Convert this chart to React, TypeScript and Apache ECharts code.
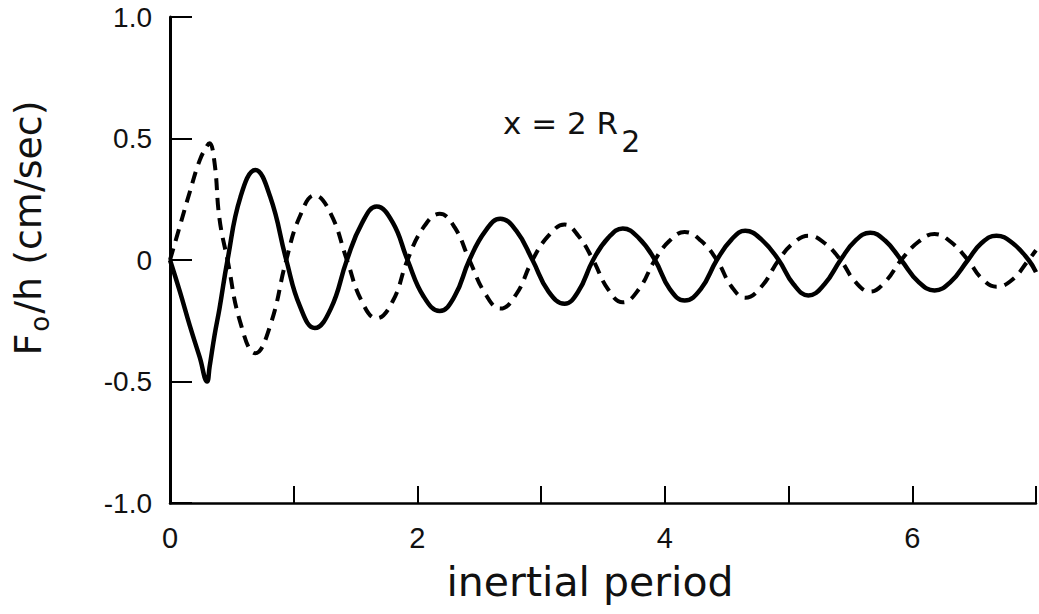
import React, { useEffect, useRef } from "react";
import * as echarts from "echarts";

// x positions (inertial periods)
const xs = [
  0, 0.08, 0.16, 0.24, 0.3, 0.32, 0.36, 0.4, 0.465, 0.57, 0.69, 0.81, 0.94, 1.05, 1.17, 1.3, 1.43, 1.55, 1.67, 1.8,
  1.92, 2.05, 2.18, 2.3, 2.42, 2.55, 2.67, 2.8, 2.93, 3.06, 3.19, 3.3, 3.42, 3.54, 3.66, 3.79, 3.92, 4.04, 4.16, 4.29,
  4.42, 4.54, 4.65, 4.78, 4.92, 5.04, 5.16, 5.29, 5.42, 5.54, 5.66, 5.78, 5.91, 6.05, 6.18, 6.31, 6.45, 6.56, 6.68,
  6.81, 6.94, 7.0,
];

// solid curve values
const solidVals = [
  0, -0.13, -0.27, -0.4, -0.5, -0.44, -0.31, -0.2, 0, 0.26, 0.37, 0.26, 0, -0.19, -0.28, -0.2, 0, 0.15, 0.22, 0.155,
  0, -0.15, -0.21, -0.15, 0, 0.12, 0.17, 0.12, 0, -0.13, -0.18, -0.13, 0, 0.09, 0.13, 0.09, 0, -0.12, -0.167, -0.12,
  0, 0.085, 0.12, 0.085, 0, -0.1, -0.146, -0.1, 0, 0.08, 0.112, 0.08, 0, -0.09, -0.125, -0.09, 0, 0.07, 0.1, 0.07,
  0, -0.05,
];

// dashed curve values
const dashedVals = [
  0, 0.14, 0.28, 0.41, 0.47, 0.48, 0.4, 0.17, 0, -0.26, -0.384, -0.27, 0, 0.18, 0.266, 0.19, 0, -0.17, -0.24, -0.17,
  0, 0.135, 0.19, 0.135, 0, -0.14, -0.2, -0.14, 0, 0.1, 0.146, 0.1, 0, -0.12, -0.174, -0.12, 0, 0.08, 0.115, 0.08,
  0, -0.11, -0.155, -0.11, 0, 0.07, 0.1, 0.07, 0, -0.09, -0.13, -0.09, 0, 0.075, 0.107, 0.075, 0, -0.075, -0.11, -0.08,
  0, 0.04,
];

const xLabelValues = [0, 2, 4, 6];
const FONT = "DejaVu Sans";
const TICK_FONT = "Liberation Sans";

export default function App() {
  const ref = useRef<HTMLDivElement>(null);
  useEffect(() => {
    if (!ref.current) return;
    const chart = echarts.init(ref.current, undefined, { renderer: "svg" });
    const solidData = xs.map((x, i) => [x, solidVals[i]]);
    const dashedData = xs.map((x, i) => [x, dashedVals[i]]);
    chart.setOption({
      animation: false,
      backgroundColor: "#ffffff",
      grid: { left: 170, right: 3, top: 17, bottom: 111, containLabel: false },
      xAxis: {
        type: "value",
        min: 0,
        max: 7,
        interval: 1,
        name: "inertial period",
        nameLocation: "middle",
        nameGap: 58,
        nameTextStyle: { fontFamily: FONT, fontSize: 41, color: "#111", padding: [0, 26, 0, 0] },
        axisLine: { show: true, onZero: false, lineStyle: { color: "#000", width: 2.5 } },
        axisTick: { show: true, inside: true, length: 17, lineStyle: { color: "#000", width: 2 } },
        axisLabel: {
          margin: 20,
          fontFamily: TICK_FONT,
          fontSize: 29,
          color: "#111",
          formatter: (v: number) => (xLabelValues.indexOf(v) >= 0 ? String(v) : ""),
        },
        splitLine: { show: false },
      },
      yAxis: {
        type: "value",
        min: -1,
        max: 1,
        interval: 0.5,
        axisLine: { show: true, onZero: false, lineStyle: { color: "#000", width: 3 } },
        axisTick: { show: true, inside: true, length: 22, lineStyle: { color: "#000", width: 2 } },
        axisLabel: {
          margin: 18,
          fontFamily: TICK_FONT,
          fontSize: 28,
          color: "#111",
          formatter: (v: number) => (v === 0 ? "0" : v.toFixed(1)),
        },
        splitLine: { show: false },
      },
      graphic: [
        {
          type: "text",
          x: 30,
          y: 228,
          rotation: Math.PI / 2,
          style: {
            text: "{m|F}{s|o}{m|/h (cm/sec)}",
            align: "center",
            verticalAlign: "middle",
            fill: "#111",
            rich: {
              m: { fontFamily: FONT, fontSize: 38, lineHeight: 42, verticalAlign: "top", fill: "#111" },
              s: { fontFamily: FONT, fontSize: 26, lineHeight: 30, padding: [18, 2, 0, 2], verticalAlign: "top", fill: "#111" },
            },
          },
        },
        {
          type: "text",
          x: 503,
          y: 107,
          style: {
            text: "{m|x = 2 R}{s|2}",
            align: "left",
            verticalAlign: "top",
            fill: "#111",
            rich: {
              m: { fontFamily: FONT, fontSize: 31, lineHeight: 34, verticalAlign: "top", fill: "#111" },
              s: { fontFamily: FONT, fontSize: 30, lineHeight: 34, padding: [19, 0, 0, 3], verticalAlign: "top", fill: "#111" },
            },
          },
        },
      ],
      series: [
        {
          type: "line",
          data: solidData,
          showSymbol: false,
          smooth: 0.45,
          lineStyle: { color: "#000", width: 4.5 },
        },
        {
          type: "line",
          data: dashedData,
          showSymbol: false,
          smooth: 0.45,
          lineStyle: { color: "#000", width: 4, type: [12, 8] },
        },
      ],
    });
    return () => chart.dispose();
  }, []);
  return (
    <div
      ref={ref}
      style={{ position: "absolute", left: 0, top: 0, width: 1039, height: 614, background: "#fff" }}
    />
  );
}
